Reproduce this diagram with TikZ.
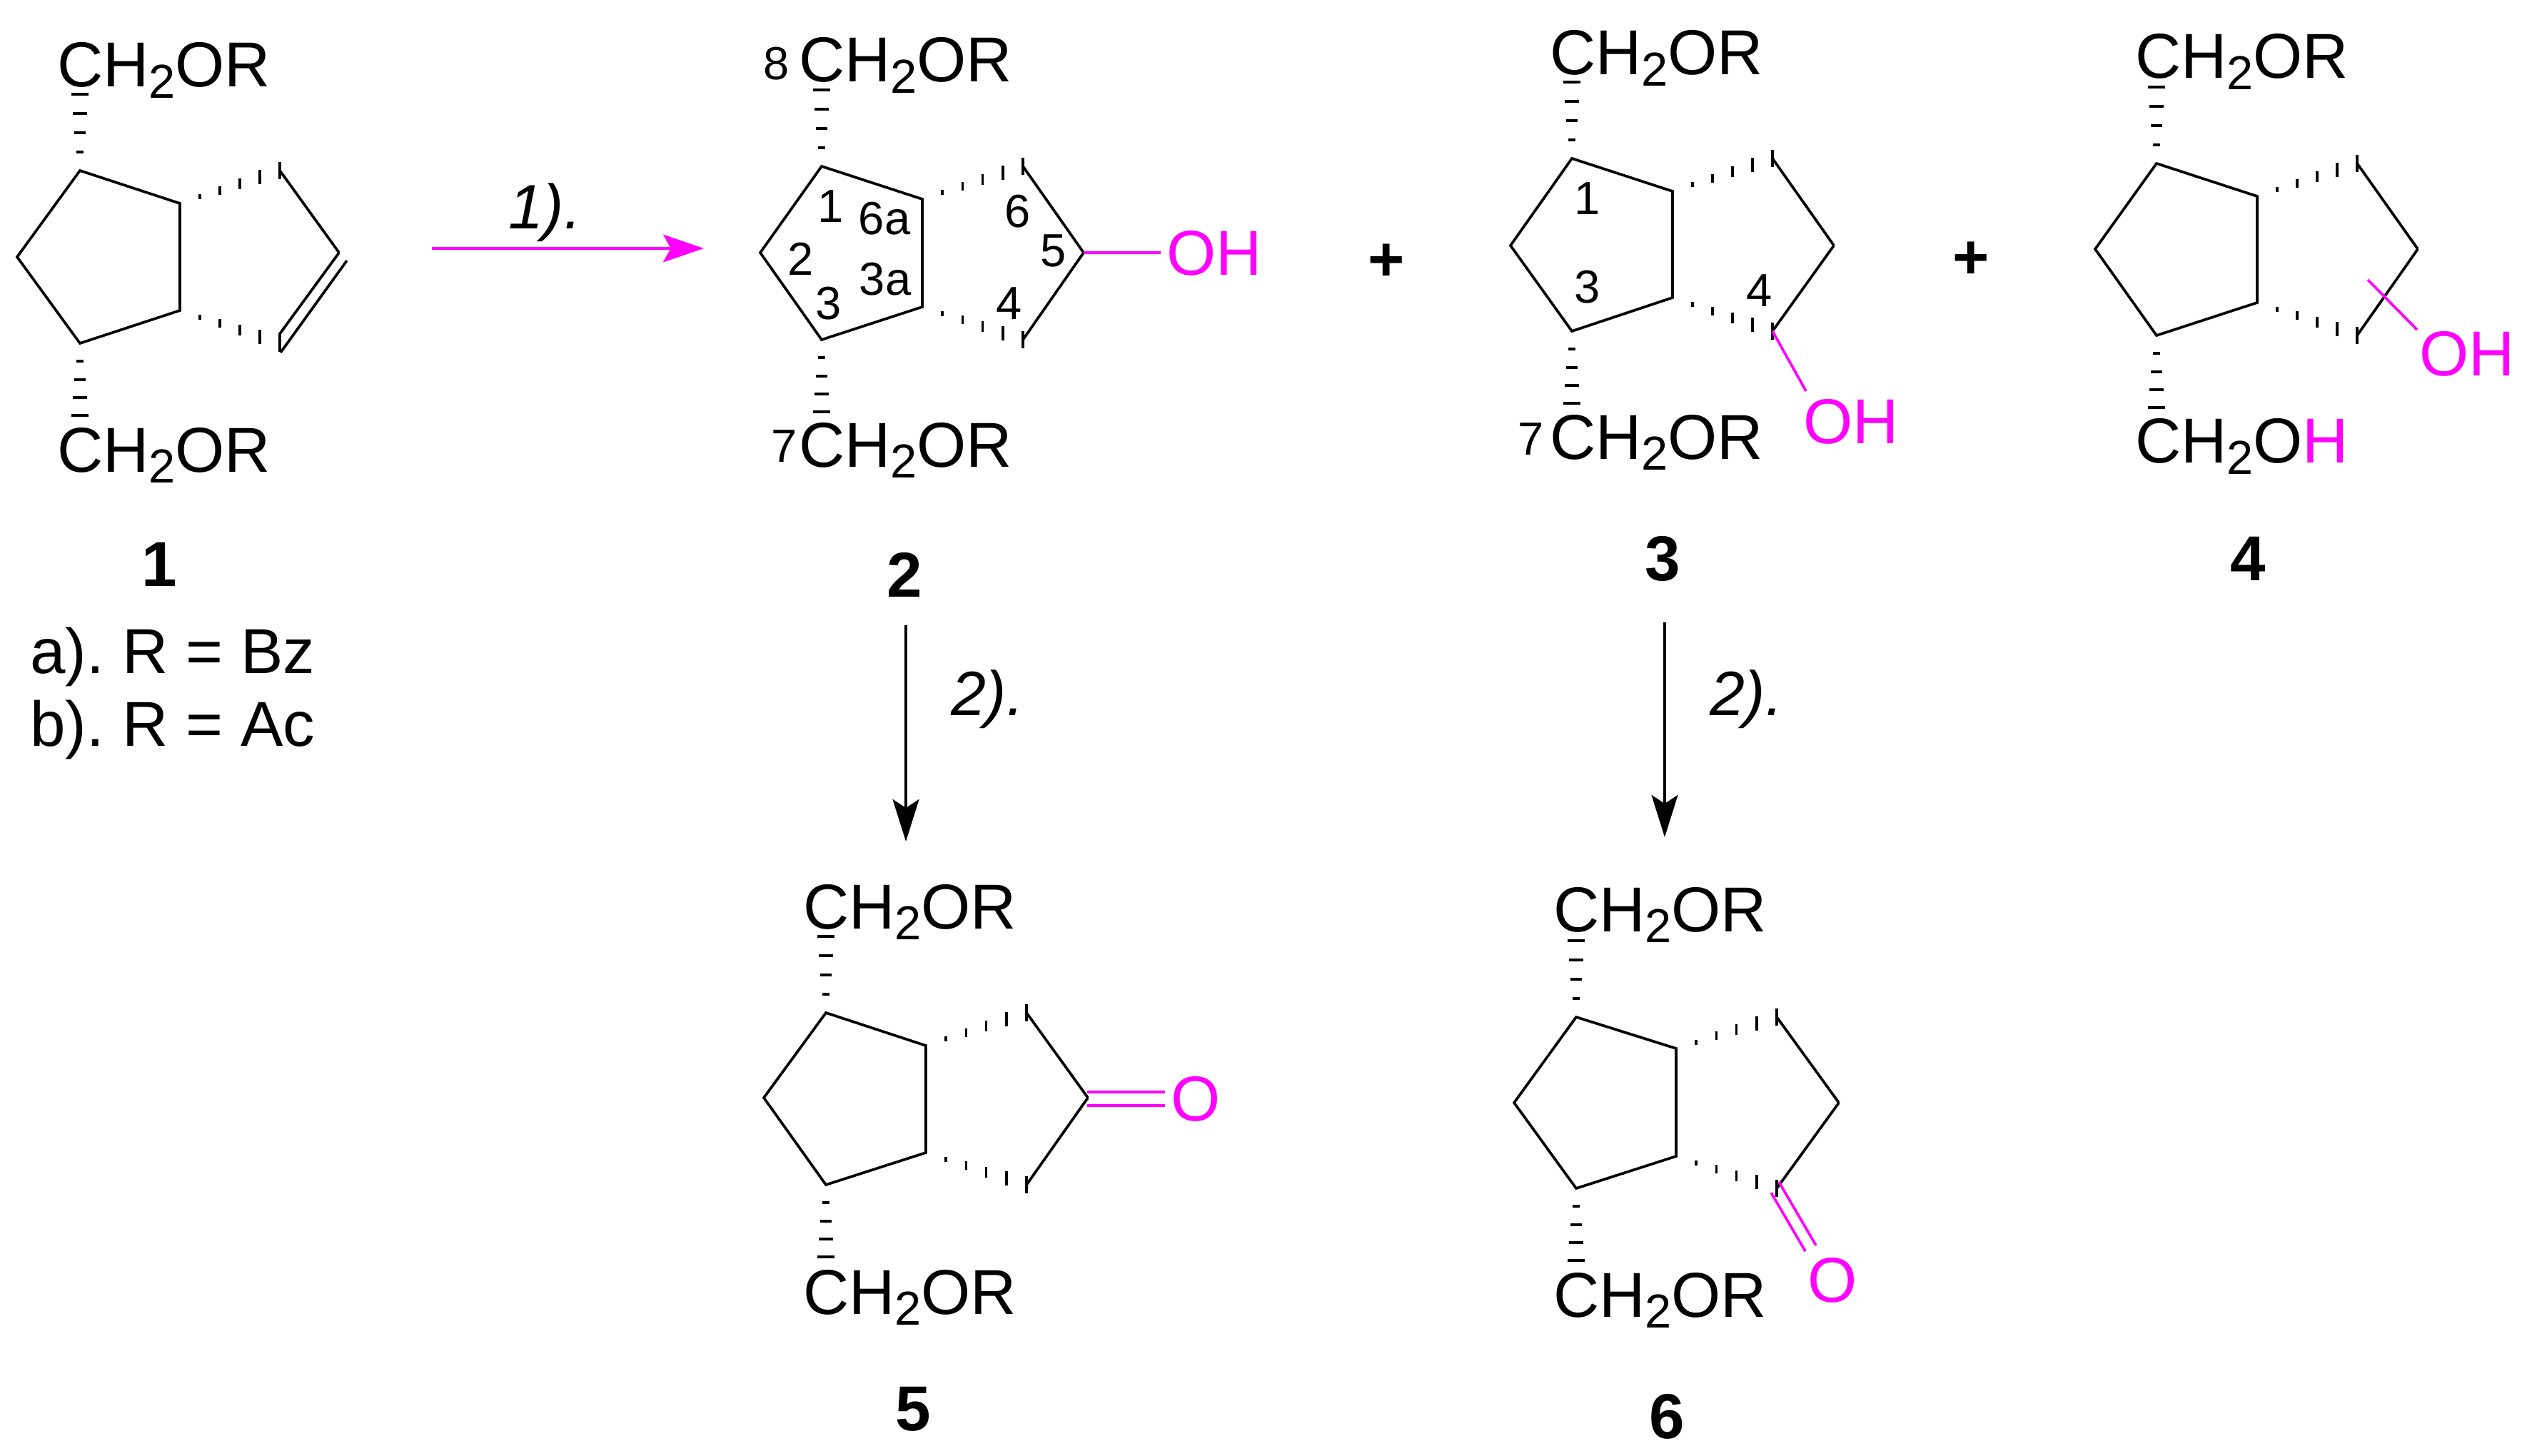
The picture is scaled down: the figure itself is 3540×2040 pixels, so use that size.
\documentclass[tikz,border=0pt]{standalone}
\usepackage{fontspec}
\setmainfont{Liberation Sans}
\usetikzlibrary{arrows.meta,calc}
\definecolor{mg}{RGB}{255,0,255}
\newcommand\subtwo{\raisebox{-4.5pt}{\fontsize{19}{20}\selectfont 2}}
\newcommand\CHOR{CH\subtwo OR}
\tikzset{
  bond/.style={line width=1.05pt,line join=miter,black},
  mbond/.style={line width=1.05pt,mg},
  hashbar/.style={line width=1.05pt,black},
  txt/.style={inner sep=0pt,outer sep=0pt,font=\fontsize{25.3}{30}\selectfont},
  num/.style={inner sep=0pt,outer sep=0pt,anchor=base,font=\fontsize{18.5}{22}\selectfont},
  cmpd/.style={inner sep=0pt,outer sep=0pt,anchor=base,font=\fontsize{25.3}{30}\selectfont\bfseries},
  plus/.style={inner sep=0pt,outer sep=0pt,font=\fontsize{25}{30}\selectfont\bfseries},
  rxn/.style={inner sep=0pt,outer sep=0pt,anchor=base west,font=\fontsize{25}{30}\selectfont\itshape},
  mtxt/.style={txt,anchor=base west,text=mg},
  group/.style={txt,anchor=base west},
  arrblack/.style={line width=1.05pt,black,-{Stealth[length=16.8pt,width=10.5pt,inset=3.4pt]}},
  arrmag/.style={line width=1.05pt,mg,-{Stealth[length=16.2pt,width=11pt,inset=3pt]}}
}
% name, L, T, RT, RB, B, Rt, Ap, Rb
\newcommand\skel[9]{%
  \coordinate (#1L) at (#2);
  \coordinate (#1T) at (#3);
  \coordinate (#1U) at (#4);
  \coordinate (#1D) at (#5);
  \coordinate (#1B) at (#6);
  \coordinate (#1Rt) at (#7);
  \coordinate (#1Ap) at (#8);
  \coordinate (#1Rb) at (#9);
  \draw[bond] (#1L) -- (#1T) -- (#1U) -- (#1D) -- (#1B) -- cycle;
  \draw[bond] (#1Rt) -- (#1Ap);
  \foreach \d/\w in {26/10,53/16,80/20,107/24}
    \draw[hashbar] ($(#1T)+(-\w/2,-\d)$) -- ($(#1T)+(\w/2,-\d)$);
  \foreach \d/\w in {25/10,51/16,76/20,101/24}
    \draw[hashbar] ($(#1B)+(-\w/2,\d)$) -- ($(#1B)+(\w/2,\d)$);
  \foreach \f/\l in {.2/7,.4/12,.6/15,.8/20,1/24} {
    \draw[hashbar] ($(#1U)!\f!(#1Rt)+(0,-\l/2)$) -- ($(#1U)!\f!(#1Rt)+(0,\l/2)$);
    \draw[hashbar] ($(#1D)!\f!(#1Rb)+(0,-\l/2)$) -- ($(#1D)!\f!(#1Rb)+(0,\l/2)$);
  }
}
\begin{document}
\begin{tikzpicture}[x=0.01cm,y=-0.01cm]
\useasboundingbox (0,0) rectangle (3540,2040);
% molecule 1
\skel{a}{24,360}{112,239}{252,285}{252,435}{112,481}{392,239}{475,354}{392,481}
\coordinate (aIn) at (391,469);
\coordinate (aO1) at (486,365);
\coordinate (aO2) at (393,494);
\draw[bond] (aAp) -- (aIn);
\draw[bond] (aO1) -- (aO2);
\node[group] (aTop) at (80,122) {\CHOR};
\node[group] (aBot) at (80,661) {\CHOR};
\node[cmpd] (aNo) at (223,821) {1};
\node[txt,anchor=base west] (aLa) at (42,943) {a).\hspace{-2pt} R = Bz};
\node[txt,anchor=base west] (aLb) at (42,1045) {b).\hspace{-2pt} R = Ac};
% arrow 1
\coordinate (r1s) at (605,348);
\coordinate (r1e) at (986,348);
\draw[arrmag] (r1s) -- (r1e);
\node[rxn] (r1t) at (712,321) {1).};
% molecule 2
\skel{b}{1065,354}{1151,233}{1292,279}{1292,430}{1151,476}{1433,233}{1518,354}{1433,476}
\draw[bond] (bAp) -- (bRb);
\coordinate (bOe) at (1626,354);
\draw[mbond] (bAp) -- (bOe);
\node[mtxt] (bOH) at (1634,386) {OH};
\node[group] (bTop) at (1119,115) {\CHOR};
\node[group] (bBot) at (1119,654) {\CHOR};
\node[num] (bn8) at (1088,112) {8};
\node[num] (bn7) at (1099,647) {7};
\node[num] (bn1) at (1164,312) {1};
\node[num] (bn6a) at (1239,329) {6a};
\node[num] (bn2) at (1122,386) {2};
\node[num] (bn3a) at (1240,414) {3a};
\node[num] (bn3) at (1161,448) {3};
\node[num] (bn6) at (1426,319) {6};
\node[num] (bn5) at (1476,374) {5};
\node[num] (bn4) at (1414,448) {4};
\node[cmpd] (bNo) at (1267,836) {2};
% plus signs
\node[plus] (p1) at (1942,368) {+};
\node[plus] (p2) at (2761,365) {+};
% molecule 3
\skel{c}{2116,344}{2202,222}{2343,268}{2343,417}{2202,464}{2483,222}{2569,344}{2483,464}
\draw[bond] (cAp) -- (cRb);
\coordinate (cOe) at (2530,548);
\draw[mbond] (cRb) -- (cOe);
\node[mtxt] (cOH) at (2526,622) {OH};
\node[group] (cTop) at (2171,105) {\CHOR};
\node[group] (cBot) at (2171,643) {\CHOR};
\node[num] (cn7) at (2145,637) {7};
\node[num] (cn1) at (2224,301) {1};
\node[num] (cn3) at (2224,425) {3};
\node[num] (cn4) at (2465,430) {4};
\node[cmpd] (cNo) at (2329,813) {3};
% molecule 4
\skel{d}{2935,349}{3021,229}{3162,275}{3162,424}{3021,470}{3302,229}{3387,349}{3302,470}
\draw[bond] (dAp) -- (dRb);
\coordinate (dOs) at (3317,392);
\coordinate (dOe) at (3386,462);
\draw[mbond] (dOs) -- (dOe);
\node[mtxt] (dOH) at (3389,527) {OH};
\node[group] (dTop) at (2991,110) {\CHOR};
\node[group] (dBot) at (2991,649) {CH\subtwo O{\color{mg}H}};
\node[cmpd] (dNo) at (3149,813) {4};
% arrows 2
\coordinate (r2s) at (1269,876);
\coordinate (r2e) at (1269,1179);
\draw[arrblack] (r2s) -- (r2e);
\node[rxn] (r2t) at (1332,1002) {2).};
\coordinate (r3s) at (2332,872);
\coordinate (r3e) at (2332,1173);
\draw[arrblack] (r3s) -- (r3e);
\node[rxn] (r3t) at (2395,1002) {2).};
% molecule 5
\skel{e}{1070,1538}{1157,1419}{1297,1465}{1297,1615}{1157,1660}{1438,1419}{1524,1538}{1438,1660}
\draw[bond] (eAp) -- (eRb);
\coordinate (eC1) at (1523,1530);
\coordinate (eO1) at (1632,1530);
\coordinate (eC2) at (1523,1549);
\coordinate (eO2) at (1632,1549);
\draw[mbond] (eC1) -- (eO1);
\draw[mbond] (eC2) -- (eO2);
\node[mtxt] (eO) at (1640,1570) {O};
\node[group] (eTop) at (1125,1301) {\CHOR};
\node[group] (eBot) at (1125,1841) {\CHOR};
\node[cmpd] (eNo) at (1279,2004) {5};
% molecule 6
\skel{f}{2121,1545}{2208,1425}{2348,1469}{2348,1620}{2208,1665}{2489,1425}{2576,1545}{2489,1665}
\draw[bond] (fAp) -- (fRb);
\coordinate (fC1) at (2492,1656);
\coordinate (fO1) at (2544,1745);
\coordinate (fC2) at (2481,1671);
\coordinate (fO2) at (2529,1753);
\draw[mbond] (fC1) -- (fO1);
\draw[mbond] (fC2) -- (fO2);
\node[mtxt] (fO) at (2532,1824) {O};
\node[group] (fTop) at (2176,1305) {\CHOR};
\node[group] (fBot) at (2176,1845) {\CHOR};
\node[cmpd] (fNo) at (2335,2015) {6};
\end{tikzpicture}
\end{document}
